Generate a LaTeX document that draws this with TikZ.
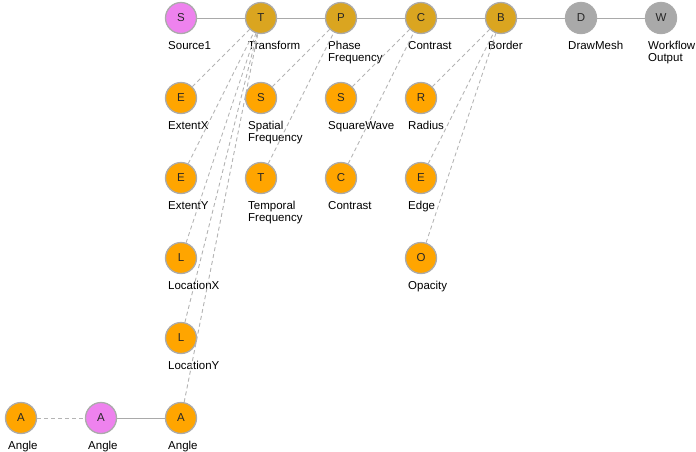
\documentclass[tikz,border=0pt]{standalone}
\usepackage{fontspec}
\setmainfont{Liberation Sans}
\begin{document}
\begin{tikzpicture}[x=1pt,y=-1pt,
  every node/.style={font=\fontsize{11.5}{12}\selectfont},
  nd/.style={circle,minimum size=31pt,inner sep=0pt,draw=ndborder,line width=1.3pt,text=black!85},
  src/.style={nd,fill=srcfill},
  inp/.style={nd,fill=inpfill},
  mid/.style={nd,fill=midfill},
  outn/.style={nd,fill=outfill},
  lbl/.style={anchor=base west,inner sep=0pt,align=left,text=black},
  flow/.style={draw=edgegray,line width=1pt},
  prop/.style={draw=dashgray,line width=0.9pt,dash pattern=on 4pt off 3pt}]
\definecolor{ndborder}{HTML}{ABABAB}
\definecolor{srcfill}{HTML}{EE82EE}
\definecolor{inpfill}{HTML}{FFA500}
\definecolor{midfill}{HTML}{DAA520}
\definecolor{outfill}{HTML}{A9A9A9}
\definecolor{edgegray}{HTML}{A9A9A9}
\definecolor{dashgray}{HTML}{B4B4B4}
\useasboundingbox (0,0) rectangle (696,451);

% main row
\node[src] (s1) at (181,18) {S};
\node[mid] (tr) at (261,18) {T};
\node[mid] (pf) at (341,18) {P};
\node[mid] (ct) at (421,18) {C};
\node[mid] (bd) at (501,18) {B};
\node[outn] (dm) at (581,18) {D};
\node[outn] (wo) at (661,18) {W};

% inputs
\node[inp] (ex) at (181,98) {E};
\node[inp] (ey) at (181,178) {E};
\node[inp] (lx) at (181,258) {L};
\node[inp] (ly) at (181,338) {L};
\node[inp] (a3) at (181,418) {A};
\node[src] (a2) at (101,418) {A};
\node[inp] (a1) at (21,418) {A};
\node[inp] (sf) at (261,98) {S};
\node[inp] (tf) at (261,178) {T};
\node[inp] (sw) at (341,98) {S};
\node[inp] (c2) at (341,178) {C};
\node[inp] (ra) at (421,98) {R};
\node[inp] (ed) at (421,178) {E};
\node[inp] (op) at (421,258) {O};

% labels
\node[lbl] at (168,49) {Source1};
\node[lbl] at (248,49) {Transform};
\node[lbl] at (328,61) {Phase\\Frequency};
\node[lbl] at (408,49) {Contrast};
\node[lbl] at (488,49) {Border};
\node[lbl] at (568,49) {DrawMesh};
\node[lbl] at (648,61) {Workflow\\Output};
\node[lbl] at (168,129) {ExtentX};
\node[lbl] at (168,209) {ExtentY};
\node[lbl] at (168,289) {LocationX};
\node[lbl] at (168,369) {LocationY};
\node[lbl] at (168,449) {Angle};
\node[lbl] at (88,449) {Angle};
\node[lbl] at (8,449) {Angle};
\node[lbl] at (248,141) {Spatial\\Frequency};
\node[lbl] at (248,221) {Temporal\\Frequency};
\node[lbl] at (328,129) {SquareWave};
\node[lbl] at (328,209) {Contrast};
\node[lbl] at (408,129) {Radius};
\node[lbl] at (408,209) {Edge};
\node[lbl] at (408,289) {Opacity};

% flow edges
\draw[flow] (s1) -- (tr);
\draw[flow] (tr) -- (pf);
\draw[flow] (pf) -- (ct);
\draw[flow] (ct) -- (bd);
\draw[flow] (bd) -- (dm);
\draw[flow] (dm) -- (wo);
\draw[flow] (a2) -- (a3);

% property edges
\draw[prop] (a1) -- (a2);
\draw[prop] (ex) -- (tr);
\draw[prop] (ey) -- (tr);
\draw[prop] (lx) -- (tr);
\draw[prop] (ly) -- (tr);
\draw[prop] (a3) -- (tr);
\draw[prop] (sf) -- (pf);
\draw[prop] (tf) -- (pf);
\draw[prop] (sw) -- (ct);
\draw[prop] (c2) -- (ct);
\draw[prop] (ra) -- (bd);
\draw[prop] (ed) -- (bd);
\draw[prop] (op) -- (bd);
\end{tikzpicture}
\end{document}
